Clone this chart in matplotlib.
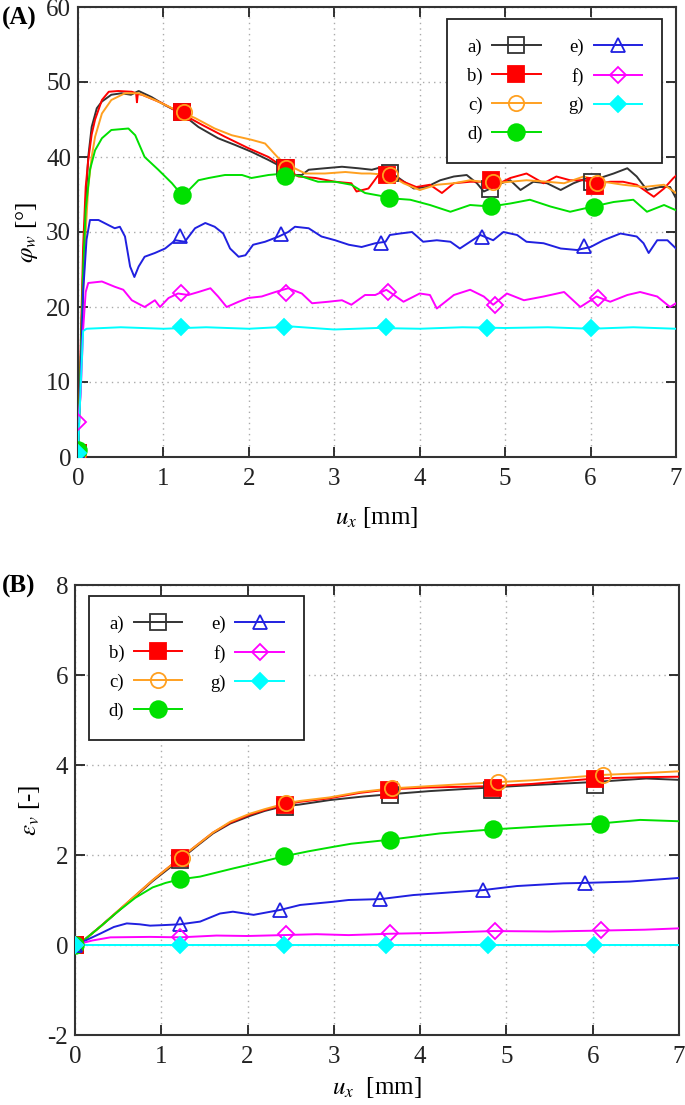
import matplotlib
matplotlib.use("Agg")
import matplotlib.pyplot as plt
from matplotlib.lines import Line2D

plt.rcParams['font.family'] = ['Liberation Serif', 'DejaVu Serif']
plt.rcParams['mathtext.fontset'] = 'stix'
plt.rcParams['axes.unicode_minus'] = False

# ---------------- data: panel A (phi_w) ----------------
labels = ['a)', 'b)', 'c)', 'd)', 'e)', 'f)', 'g)']
colors = ['#333333', '#ff0000', '#ffa020', '#00e000', '#2020e0', '#ff00ff', '#00ffff']

a_x = [0, 0.03, 0.06, 0.09, 0.12, 0.16, 0.22, 0.28, 0.39, 0.51, 0.62, 0.71, 0.86, 1.02, 1.21, 1.41, 1.64, 1.84,
       2.03, 2.23, 2.38, 2.50, 2.62, 2.70, 2.89, 3.09, 3.28, 3.44, 3.57, 3.65, 3.73, 3.93, 4.08, 4.24, 4.40, 4.55,
       4.67, 4.75, 4.83, 4.90, 5.06, 5.18, 5.33, 5.49, 5.65, 5.80, 5.96, 6.03, 6.11, 6.27, 6.43, 6.54, 6.66, 6.81,
       6.93, 7.0]
a_y = [0.5, 12, 25, 34, 40, 44, 46.5, 47.4, 48.3, 48.5, 48.3, 48.8, 48.0, 46.9, 45.8, 44.0, 42.5, 41.6,
       40.7, 39.6, 38.7, 37.6, 37.6, 38.3, 38.5, 38.7, 38.5, 38.3, 38.7, 38.0, 37.4, 35.8, 36.0, 36.9, 37.4, 37.6,
       36.5, 35.4, 35.8, 36.3, 36.9, 35.6, 36.7, 36.5, 35.6, 36.5, 37.2, 36.6, 37.2, 37.8, 38.5, 37.4, 35.6, 36.0,
       36.0, 34.5]

b_x = [0, 0.03, 0.06, 0.09, 0.12, 0.16, 0.20, 0.28, 0.36, 0.47, 0.63, 0.68, 0.69, 0.70, 0.75, 0.98, 1.21, 1.45,
       1.72, 1.99, 2.23, 2.42, 2.58, 2.78, 3.01, 3.20, 3.26, 3.40, 3.53, 3.65, 3.81, 3.96, 4.12, 4.26, 4.40, 4.59,
       4.79, 4.90, 5.06, 5.25, 5.45, 5.60, 5.76, 5.92, 6.07, 6.23, 6.38, 6.54, 6.74, 6.86, 6.97, 7.0]
b_y = [0.5, 14, 28, 36, 39.6, 43, 45, 47.6, 48.7, 48.8, 48.7, 48.5, 47.3, 48.4, 48.3, 47.2, 45.8, 44.3,
       42.7, 41.2, 40.0, 38.5, 37.4, 37.2, 36.7, 36.5, 35.4, 35.8, 37.8, 37.6, 36.7, 36.0, 36.3, 35.2, 36.5, 36.7,
       36.7, 36.3, 37.2, 37.8, 36.5, 37.4, 36.9, 36.9, 36.5, 36.7, 36.7, 36.3, 34.7, 35.8, 37.2, 37.5]

c_x = [0, 0.03, 0.06, 0.09, 0.12, 0.16, 0.20, 0.28, 0.39, 0.55, 0.71, 0.90, 1.14, 1.37, 1.60, 1.80, 2.03, 2.19,
       2.35, 2.50, 2.66, 2.89, 3.13, 3.32, 3.42, 3.65, 3.81, 4.00, 4.20, 4.40, 4.59, 4.86, 5.06, 5.25, 5.49, 5.69,
       5.92, 6.15, 6.38, 6.62, 6.86, 7.0]
c_y = [0.5, 10, 22, 30, 36, 40, 42.7, 45.8, 47.6, 48.5, 48.5, 47.6, 46.3, 45.2, 43.8, 42.9, 42.3, 41.8,
       39.8, 38.7, 37.8, 37.8, 38.0, 37.8, 37.8, 37.6, 36.5, 35.6, 36.3, 36.5, 36.9, 36.5, 36.7, 36.9, 36.7, 36.5,
       37.4, 36.7, 36.3, 36.0, 36.3, 35.2]

d_x = [0, 0.03, 0.06, 0.09, 0.14, 0.20, 0.28, 0.39, 0.59, 0.67, 0.78, 0.94, 1.10, 1.21, 1.29, 1.41, 1.53, 1.72,
       1.92, 2.03, 2.23, 2.42, 2.62, 2.81, 3.01, 3.20, 3.36, 3.60, 3.65, 3.89, 4.12, 4.36, 4.59, 4.83, 5.06, 5.29,
       5.53, 5.76, 6.03, 6.27, 6.50, 6.66, 6.86, 7.0]
d_y = [1.0, 12, 25, 33, 38.3, 40.9, 42.5, 43.6, 43.8, 42.9, 40.0, 38.3, 36.5, 35.0, 35.5, 36.9, 37.2, 37.6,
       37.6, 37.2, 37.6, 37.8, 37.4, 36.7, 36.7, 36.3, 35.2, 34.7, 34.5, 34.3, 33.6, 32.7, 33.6, 33.4, 33.8, 34.3,
       33.4, 32.7, 33.4, 34.0, 34.3, 32.7, 33.6, 32.9]

e_x = [0, 0.03, 0.06, 0.10, 0.14, 0.24, 0.36, 0.43, 0.49, 0.55, 0.61, 0.66, 0.71, 0.78, 0.90, 1.02, 1.14, 1.25,
       1.37, 1.49, 1.60, 1.70, 1.78, 1.88, 1.96, 2.05, 2.19, 2.35, 2.46, 2.54, 2.70, 2.85, 3.01, 3.17, 3.32, 3.48,
       3.60, 3.65, 3.77, 3.91, 4.04, 4.20, 4.36, 4.47, 4.59, 4.71, 4.86, 4.98, 5.14, 5.25, 5.45, 5.65, 5.84, 6.00,
       6.15, 6.35, 6.54, 6.62, 6.68, 6.78, 6.90, 7.0]
e_y = [0.5, 10, 22, 29, 31.6, 31.6, 30.9, 30.5, 30.7, 29.4, 25.4, 24.0, 25.4, 26.7, 27.2, 27.8, 28.9, 28.7,
       30.5, 31.2, 30.7, 29.8, 27.8, 26.7, 26.9, 28.3, 28.7, 29.4, 30.0, 30.7, 30.5, 29.4, 28.9, 28.3, 28.0, 28.5,
       28.7, 29.6, 29.8, 30.0, 28.7, 28.9, 28.7, 27.8, 28.7, 29.6, 28.9, 30.0, 29.6, 28.7, 28.5, 27.8, 27.6, 28.0,
       28.9, 29.8, 29.4, 28.5, 27.2, 28.9, 28.9, 27.8]

f_x = [0, 0.03, 0.06, 0.09, 0.12, 0.28, 0.43, 0.53, 0.63, 0.78, 0.90, 0.96, 1.06, 1.17, 1.29, 1.41, 1.55, 1.64,
       1.74, 1.88, 1.99, 2.15, 2.31, 2.46, 2.62, 2.74, 2.93, 3.09, 3.20, 3.36, 3.48, 3.61, 3.81, 4.00, 4.12, 4.20,
       4.40, 4.59, 4.75, 4.86, 5.02, 5.22, 5.45, 5.69, 5.88, 6.07, 6.23, 6.43, 6.58, 6.78, 6.93, 7.0]
f_y = [4.7, 8, 17, 22, 23.2, 23.4, 22.7, 22.3, 20.9, 20.0, 20.9, 20.0, 21.2, 21.8, 21.6, 22.0, 22.5, 21.4,
       20.0, 20.7, 21.2, 21.4, 22.0, 22.5, 21.8, 20.5, 20.7, 20.9, 20.3, 21.6, 21.6, 22.3, 20.7, 21.8, 21.6, 19.8,
       21.6, 22.3, 21.4, 20.3, 21.8, 20.9, 21.4, 22.0, 20.0, 21.4, 20.7, 21.6, 22.0, 21.4, 20.0, 20.5]

g_x = [0, 0.03, 0.06, 0.10, 0.5, 1.0, 1.5, 2.0, 2.5, 3.0, 3.5, 4.0, 4.5, 5.0, 5.5, 6.0, 6.5, 7.0]
g_y = [0.5, 9, 16.8, 17.1, 17.3, 17.1, 17.3, 17.1, 17.4, 17.0, 17.2, 17.1, 17.3, 17.2, 17.3, 17.1, 17.3, 17.1]

# marker positions (panel A)
a_mx = [0, 1.22, 2.42, 3.65, 4.82, 6.02]; a_my = [0.5, 46.0, 38.5, 37.9, 35.8, 36.7]
b_mx = [0, 1.22, 2.43, 3.62, 4.83, 6.05]; b_my = [0.5, 46.0, 38.6, 37.6, 36.9, 36.2]
c_mx = [0, 1.24, 2.44, 3.65, 4.86, 6.07]; c_my = [0.5, 46.0, 38.6, 37.6, 36.7, 36.5]
d_mx = [0, 1.22, 2.42, 3.64, 4.84, 6.04]; d_my = [1.0, 34.9, 37.5, 34.6, 33.5, 33.3]
e_mx = [0, 1.19, 2.38, 3.55, 4.73, 5.92]; e_my = [0.5, 29.5, 29.8, 28.6, 29.4, 28.1]
f_mx = [0, 1.21, 2.44, 3.63, 4.88, 6.09]; f_my = [4.7, 21.9, 21.9, 22.0, 20.3, 21.2]
g_mx = [0, 1.21, 2.41, 3.61, 4.79, 6.00]; g_my = [0.5, 17.3, 17.3, 17.3, 17.2, 17.2]

# ---------------- data: panel B (eps_v) ----------------
A_x = [0, 0.1, 0.3, 0.5, 0.7, 0.9, 1.1, 1.22, 1.4, 1.6, 1.8, 2.03, 2.2, 2.41, 2.6, 2.95, 3.34, 3.65, 4.11, 4.81,
       5.27, 6.0, 6.62, 7.0]
A_y = [0, 0.1, 0.42, 0.75, 1.08, 1.42, 1.72, 1.90, 2.18, 2.48, 2.70, 2.87, 2.98, 3.08, 3.12, 3.22, 3.30, 3.35,
       3.42, 3.50, 3.55, 3.62, 3.70, 3.67]
B_x = [0, 0.1, 0.3, 0.5, 0.7, 0.9, 1.1, 1.22, 1.4, 1.6, 1.8, 2.03, 2.2, 2.43, 2.6, 2.95, 3.3, 3.65, 4.1, 4.84,
       5.3, 6.03, 6.6, 7.0]
B_y = [0, 0.1, 0.42, 0.76, 1.1, 1.44, 1.75, 1.93, 2.2, 2.5, 2.72, 2.9, 3.0, 3.12, 3.18, 3.26, 3.38, 3.46, 3.5,
       3.53, 3.58, 3.70, 3.73, 3.74]
C_x = [0, 0.1, 0.3, 0.5, 0.7, 0.9, 1.1, 1.22, 1.4, 1.6, 1.8, 2.03, 2.2, 2.45, 2.6, 2.95, 3.3, 3.67, 4.1, 4.9,
       5.3, 6.12, 6.6, 7.0]
C_y = [0, 0.1, 0.42, 0.76, 1.1, 1.44, 1.75, 1.93, 2.2, 2.5, 2.74, 2.92, 3.02, 3.15, 3.2, 3.28, 3.4, 3.48, 3.53,
       3.62, 3.66, 3.78, 3.82, 3.86]
D_x = [0, 0.1, 0.3, 0.5, 0.7, 0.9, 1.05, 1.22, 1.45, 1.83, 2.1, 2.42, 2.7, 2.99, 3.2, 3.65, 4.23, 4.85, 5.46,
       6.08, 6.55, 7.0]
D_y = [0, 0.1, 0.42, 0.75, 1.05, 1.28, 1.38, 1.46, 1.52, 1.70, 1.82, 1.97, 2.08, 2.18, 2.25, 2.34, 2.48, 2.57,
       2.64, 2.70, 2.78, 2.75]
E_x = [0, 0.1, 0.3, 0.45, 0.6, 0.75, 0.87, 1.0, 1.22, 1.45, 1.68, 1.83, 2.07, 2.38, 2.61, 2.99, 3.17, 3.54, 3.92,
       4.5, 4.73, 5.12, 5.66, 5.91, 6.43, 7.0]
E_y = [0, 0.08, 0.26, 0.4, 0.48, 0.46, 0.43, 0.44, 0.46, 0.52, 0.70, 0.74, 0.67, 0.78, 0.89, 0.96, 1.0, 1.02,
       1.11, 1.19, 1.22, 1.31, 1.37, 1.38, 1.41, 1.49]
F_x = [0, 0.2, 0.41, 0.87, 1.22, 1.64, 2.0, 2.41, 2.8, 3.17, 3.65, 4.2, 4.85, 5.5, 6.08, 6.6, 7.0]
F_y = [0, 0.1, 0.17, 0.18, 0.17, 0.21, 0.2, 0.22, 0.24, 0.22, 0.25, 0.27, 0.31, 0.30, 0.32, 0.34, 0.37]
G_x = [0, 3.5, 7.0]
G_y = [0, 0, 0]

A_mx = [0, 1.22, 2.43, 3.65, 4.83, 6.03]; A_my = [0, 1.90, 3.07, 3.33, 3.45, 3.56]
B_mx = [0, 1.22, 2.43, 3.64, 4.84, 6.03]; B_my = [0, 1.93, 3.12, 3.45, 3.50, 3.70]
C_mx = [0, 1.24, 2.45, 3.67, 4.90, 6.12]; C_my = [0, 1.93, 3.15, 3.48, 3.62, 3.78]
D_mx = [0, 1.22, 2.42, 3.65, 4.85, 6.08]; D_my = [0, 1.46, 1.97, 2.34, 2.58, 2.70]
E_mx = [0, 1.22, 2.38, 3.54, 4.73, 5.91]; E_my = [0, 0.47, 0.78, 1.02, 1.22, 1.38]
F_mx = [0, 1.22, 2.45, 3.65, 4.87, 6.10]; F_my = [0, 0.18, 0.25, 0.27, 0.31, 0.33]
G_mx = [0, 1.22, 2.42, 3.61, 4.79, 6.01]; G_my = [0, 0, 0, 0, 0, 0]

xticks = [0, 1, 2, 3, 4, 5, 6, 7]
yticks_A = [0, 10, 20, 30, 40, 50, 60]
yticks_B = [-2, 0, 2, 4, 6, 8]

# marker styles: (marker, filled, size)
mstyles = [('s', False, 11), ('s', True, 11), ('o', False, 11), ('o', True, 12),
           ('^', False, 10), ('D', False, 8), ('D', True, 8)]

W, H = 685, 1105
fig = plt.figure(figsize=(W / 100, H / 100), dpi=100)

axA = fig.add_axes([78 / W, 1 - 457 / H, (676 - 78) / W, (457 - 7) / H])
axB = fig.add_axes([75 / W, 1 - 1035 / H, (679 - 75) / W, (1035 - 585) / H])

seriesA = [(a_x, a_y, a_mx, a_my), (b_x, b_y, b_mx, b_my), (c_x, c_y, c_mx, c_my), (d_x, d_y, d_mx, d_my),
           (e_x, e_y, e_mx, e_my), (f_x, f_y, f_mx, f_my), (g_x, g_y, g_mx, g_my)]
seriesB = [(A_x, A_y, A_mx, A_my), (B_x, B_y, B_mx, B_my), (C_x, C_y, C_mx, C_my), (D_x, D_y, D_mx, D_my),
           (E_x, E_y, E_mx, E_my), (F_x, F_y, F_mx, F_my), (G_x, G_y, G_mx, G_my)]

def mk_kw(i):
    m, filled, s = mstyles[i]
    return dict(marker=m, markersize=s, markeredgewidth=1.3, markeredgecolor=colors[i],
                markerfacecolor=colors[i] if filled else 'none')

def draw(ax, series):
    for i, (x, y, mx, my) in enumerate(series):
        ax.plot(x, y, color=colors[i], lw=1.4, zorder=3 + i * 0.01)
        ax.plot(mx, my, linestyle='none', zorder=4, **mk_kw(i))

def style(ax, yticks, ylim):
    ax.set_xlim(0, 7)
    ax.set_ylim(*ylim)
    ax.set_xticks(xticks)
    ax.set_yticks(yticks)
    ax.grid(True, linestyle=(0, (1, 3)), color='#aaaaaa', lw=1.0)
    ax.set_axisbelow(True)
    ax.tick_params(direction='in', top=True, right=True, length=7, width=1.3, labelsize=18, colors='#222222')
    ax.tick_params(axis='x', pad=8)
    ax.tick_params(axis='y', pad=5)
    for sp in ax.spines.values():
        sp.set_linewidth(1.5)
        sp.set_color('#333333')

draw(axA, seriesA)
draw(axB, seriesB)
style(axA, yticks_A, (0, 60))
style(axB, yticks_B, (-2, 8))

axA.set_xlabel(r'$u_x$ [mm]', fontsize=18, labelpad=11)
axA.set_ylabel(r'$\varphi_w$ [°]', fontsize=18, labelpad=4)
axB.set_xlabel(r'$u_x$  [mm]', fontsize=18, labelpad=5)
axB.set_ylabel(r'$\varepsilon_v$ [-]', fontsize=18, labelpad=4)

handles = [Line2D([], [], color=colors[i], lw=1.4, **mk_kw(i)) for i in range(7)]
for ax, anchor in [(axA, (662 / W, 1 - 19 / H)), (axB, (89 / W, 1 - 596 / H))]:
    loc = 'upper right' if ax is axA else 'upper left'
    leg = ax.legend(handles, labels, ncol=2, loc=loc, bbox_to_anchor=anchor, bbox_transform=fig.transFigure,
                    markerfirst=False, fancybox=False, framealpha=1, edgecolor='#222222', fontsize=13.5,
                    handlelength=2.6, labelspacing=0.62, columnspacing=1.5, borderpad=1.05, handletextpad=0.5,
                    borderaxespad=0)
    leg.get_frame().set_linewidth(1.3)

fig.text(2 / W, 1 - 18 / H, '(A)', fontsize=18, fontweight='bold', va='center', ha='left')
fig.text(2 / W, 1 - 586 / H, '(B)', fontsize=18, fontweight='bold', va='center', ha='left')

fig.savefig('out.png', dpi=100)
